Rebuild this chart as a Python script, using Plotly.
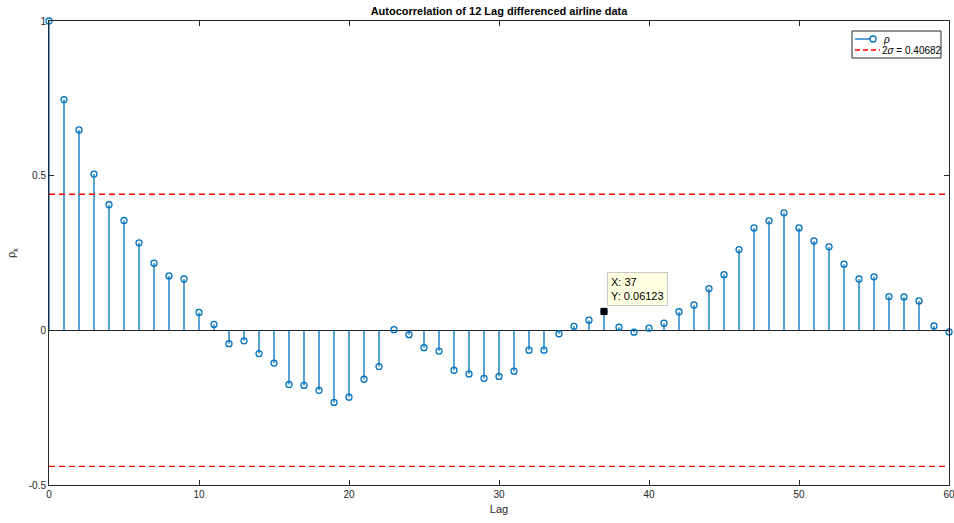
import plotly.graph_objects as go

# Sample autocorrelation of the 12-lag differenced airline series
lags = list(range(0, 61))
rho = [
    1.000, 0.746, 0.648, 0.505, 0.406, 0.355, 0.283, 0.217, 0.176, 0.166,
    0.058, 0.019, -0.043, -0.034, -0.075, -0.106, -0.175, -0.178, -0.194, -0.233,
    -0.216, -0.158, -0.117, 0.002, -0.014, -0.056, -0.067, -0.129, -0.141, -0.155,
    -0.149, -0.132, -0.064, -0.064, -0.011, 0.013, 0.033, 0.06123, 0.010, -0.006,
    0.007, 0.023, 0.060, 0.082, 0.135, 0.180, 0.261, 0.331, 0.354, 0.380,
    0.331, 0.289, 0.270, 0.214, 0.166, 0.173, 0.109, 0.108, 0.095, 0.014,
    -0.005,
]

# Confidence band level and its legend text
band_level = 0.44
band_label = "2<i>\u03c3</i> = 0.40682"
rho_label = "<i>\u03c1</i>"

# Highlighted point (data cursor)
tip_lag = 37
tip_value = 0.06123

x_ticks = [0, 10, 20, 30, 40, 50, 60]
y_ticks = [-0.5, 0, 0.5, 1]
y_tick_text = ["-0.5", "0", "0.5", "1"]

BLUE = "#0072BD"
RED = "#FF0000"
AXIS = "#262626"
FONT = "Liberation Sans, Arial, Helvetica, sans-serif"

W, H = 954, 523
ML, MR, MT, MB = 49, 5, 21, 38
PW, PH = W - ML - MR, H - MT - MB


def px(x):
    """Horizontal pixel -> paper coordinate."""
    return (x - ML) / PW


def py(y):
    """Vertical pixel (from top) -> paper coordinate."""
    return (H - MB - y) / PH


# Build stems as separate vertical segments from the baseline
stem_x, stem_y = [], []
for k, v in zip(lags, rho):
    stem_x += [k, k, None]
    stem_y += [0, v, None]

fig = go.Figure()

fig.add_trace(go.Scatter(
    x=stem_x, y=stem_y, mode="lines",
    line=dict(color=BLUE, width=1.3),
    showlegend=False, hoverinfo="skip",
))

fig.add_trace(go.Scatter(
    x=lags, y=rho, mode="markers",
    marker=dict(symbol="circle-open", size=6, color=BLUE, line=dict(width=1.3)),
    cliponaxis=False, showlegend=False,
))

x_span = [lags[0], lags[-1]]
for sign in (1, -1):
    fig.add_trace(go.Scatter(
        x=x_span, y=[sign * band_level] * 2, mode="lines",
        line=dict(color=RED, width=1.3, dash="6px,4px"),
        showlegend=False,
    ))

# Data cursor marker
fig.add_trace(go.Scatter(
    x=[tip_lag], y=[tip_value], mode="markers",
    marker=dict(symbol="square", size=7, color="black"),
    showlegend=False, cliponaxis=False,
))

fig.add_annotation(
    x=tip_lag, y=tip_value, xref="x", yref="y",
    text=f"X: {tip_lag}<br>Y: {tip_value}",
    showarrow=False, xanchor="left", yanchor="bottom",
    xshift=3, yshift=5, align="left",
    bgcolor="#FFFFE1", bordercolor="#C8C8C8", borderwidth=1, borderpad=3,
    font=dict(family=FONT, size=11, color="black"),
)

# Legend box drawn in paper space
shapes = [
    dict(type="rect", xref="paper", yref="paper",
         x0=px(852), x1=px(941), y0=py(58), y1=py(31),
         line=dict(color=AXIS, width=1), fillcolor="white", layer="above"),
    dict(type="line", xref="paper", yref="paper",
         x0=px(855), x1=px(873), y0=py(39), y1=py(39),
         line=dict(color=BLUE, width=1.3), layer="above"),
    dict(type="circle", xref="paper", yref="paper",
         x0=px(870), x1=px(876), y0=py(42), y1=py(36),
         line=dict(color=BLUE, width=1.3), fillcolor="white", layer="above"),
    dict(type="line", xref="paper", yref="paper",
         x0=px(855), x1=px(880), y0=py(50), y1=py(50),
         line=dict(color=RED, width=1.3, dash="5px,3px"), layer="above"),
]
fig.add_annotation(
    x=px(881), y=py(40), xref="paper", yref="paper", text=rho_label,
    showarrow=False, xanchor="left", yanchor="middle",
    font=dict(family=FONT, size=10, color="black"),
)
fig.add_annotation(
    x=px(880), y=py(50.5), xref="paper", yref="paper", text=band_label,
    showarrow=False, xanchor="left", yanchor="middle",
    font=dict(family=FONT, size=10, color="black"),
)

fig.update_layout(
    width=W, height=H,
    margin=dict(l=ML, r=MR, t=MT, b=MB, autoexpand=False),
    paper_bgcolor="white", plot_bgcolor="white",
    font=dict(family=FONT, size=10, color=AXIS),
    title=dict(
        text="<b>Autocorrelation of 12 Lag differenced airline data</b>",
        x=(ML + PW / 2) / W, xanchor="center", y=1 - 11 / H, yanchor="middle",
        font=dict(family=FONT, size=11, color="black"),
    ),
    shapes=shapes,
    showlegend=False,
)

fig.update_xaxes(
    range=[x_span[0], x_span[1]], tickvals=x_ticks,
    ticks="inside", ticklen=5, tickcolor=AXIS, tickwidth=1,
    showline=True, linecolor=AXIS, linewidth=1, mirror="ticks",
    showgrid=False, zeroline=False, ticklabeloverflow="allow", automargin=False,
    title=dict(text="Lag", font=dict(family=FONT, size=11, color=AXIS), standoff=6),
    tickfont=dict(family=FONT, size=10, color=AXIS),
)
fig.update_yaxes(
    range=[y_ticks[0], y_ticks[-1]], tickvals=y_ticks, ticktext=y_tick_text,
    ticks="inside", ticklen=5, tickcolor=AXIS, tickwidth=1,
    showline=True, linecolor=AXIS, linewidth=1, mirror="ticks",
    showgrid=False, zeroline=True, zerolinecolor=AXIS, zerolinewidth=1.3,
    automargin=False,
    title=dict(text="\u03c1<sub>k</sub>", font=dict(family=FONT, size=11, color=AXIS), standoff=10),
    tickfont=dict(family=FONT, size=10, color=AXIS),
)

fig.write_html("out.html")
